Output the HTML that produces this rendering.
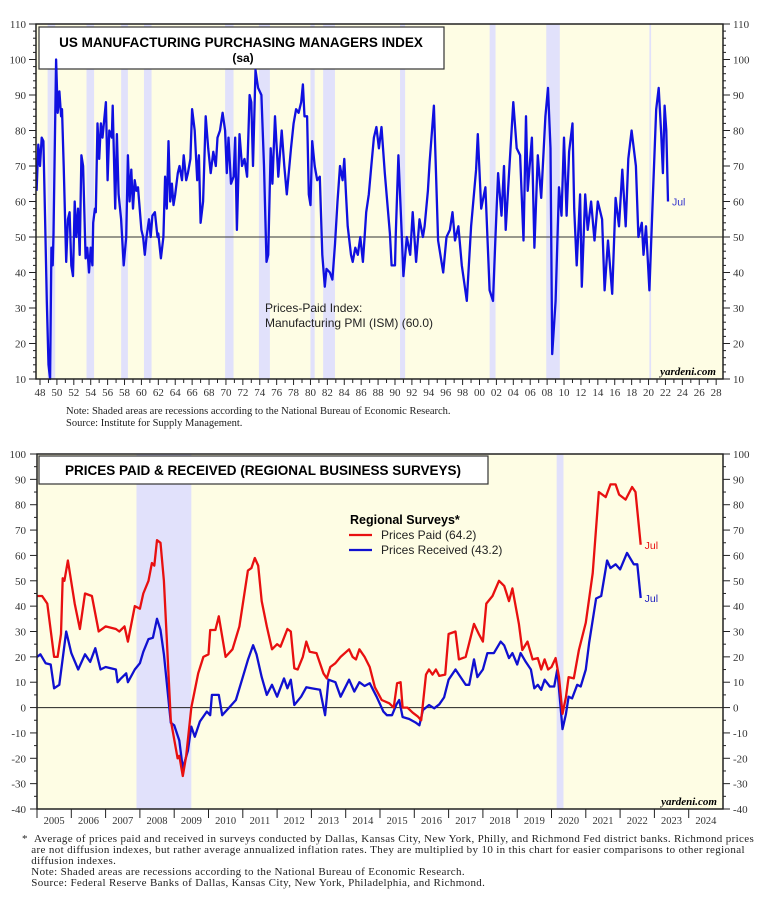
<!DOCTYPE html>
<html><head><meta charset="utf-8">
<style>
body{margin:0;background:#fff;width:771px;height:907px;overflow:hidden;font-family:"Liberation Serif",serif;}
svg{position:absolute;left:0;top:0}
.note{position:absolute;font-family:"Liberation Serif",serif;font-size:10.5px;line-height:11.5px;color:#222}
</style></head><body>
<svg id="chart" width="771" height="907" xmlns="http://www.w3.org/2000/svg"></svg>
<div class="note" style="left:66px;top:406px">Note: Shaded areas are recessions according to the National Bureau of Economic Research.<br>Source: Institute for Supply Management.</div>
<div class="note" style="left:22px;top:834px;width:749px;font-size:11px;line-height:11px;letter-spacing:0.35px;white-space:nowrap">*&nbsp;&nbsp;Average of prices paid and received in surveys conducted by Dallas, Kansas City, New York, Philly, and Richmond Fed district banks. Richmond prices<br>&nbsp;&nbsp;&nbsp;are not diffusion indexes, but rather average annualized inflation rates. They are multiplied by 10 in this chart for easier comparisons to other regional<br>&nbsp;&nbsp;&nbsp;diffusion indexes.<br>&nbsp;&nbsp;&nbsp;Note: Shaded areas are recessions according to the National Bureau of Economic Research.<br>&nbsp;&nbsp;&nbsp;Source: Federal Reserve Banks of Dallas, Kansas City, New York, Philadelphia, and Richmond.</div>
<script>
// ---------- TOP CHART DATA ----------
const pmiDates=[1947.6,1947.8,1948.0,1948.2,1948.4,1948.6,1948.8,1949.0,1949.2,1949.35,1949.5,1949.6,1949.9,1950.1,1950.3,1950.5,1950.6,1950.8,1951.1,1951.3,1951.5,1951.7,1951.9,1952.1,1952.3,1952.5,1952.7,1952.9,1953.1,1953.4,1953.6,1953.8,1954.0,1954.2,1954.3,1954.5,1954.6,1954.8,1955.0,1955.2,1955.4,1955.6,1955.8,1956.0,1956.2,1956.5,1956.6,1956.9,1957.1,1957.3,1957.6,1957.9,1958.2,1958.4,1958.6,1958.8,1959.0,1959.2,1959.4,1959.6,1959.8,1960.0,1960.2,1960.4,1960.6,1960.9,1961.1,1961.3,1961.6,1961.9,1962.0,1962.3,1962.6,1962.8,1963.0,1963.2,1963.4,1963.6,1963.8,1964.0,1964.3,1964.5,1964.8,1965.0,1965.3,1965.5,1965.8,1966.0,1966.3,1966.6,1966.8,1967.0,1967.3,1967.6,1967.9,1968.2,1968.5,1968.8,1969.0,1969.3,1969.6,1969.9,1970.1,1970.3,1970.6,1970.9,1971.1,1971.3,1971.6,1971.9,1972.2,1972.5,1972.8,1973.0,1973.2,1973.5,1973.8,1974.2,1974.5,1974.8,1975.0,1975.3,1975.5,1975.8,1976.2,1976.6,1976.9,1977.2,1977.7,1978.0,1978.3,1978.6,1978.9,1979.1,1979.3,1979.6,1979.8,1980.0,1980.2,1980.5,1980.8,1981.1,1981.4,1981.7,1981.9,1982.3,1982.6,1982.9,1983.2,1983.5,1983.8,1984.0,1984.2,1984.4,1984.8,1985.0,1985.3,1985.6,1985.9,1986.2,1986.4,1986.6,1986.9,1987.2,1987.5,1987.8,1988.1,1988.4,1988.8,1989.4,1989.6,1990.0,1990.1,1990.4,1990.8,1991.0,1991.4,1991.8,1992.1,1992.5,1992.9,1993.3,1993.5,1993.9,1994.1,1994.6,1995.1,1995.7,1996.1,1996.5,1996.8,1997.1,1997.5,1997.9,1998.5,1999.0,1999.6,1999.8,2000.2,2000.7,2001.2,2001.6,2001.9,2002.2,2002.6,2002.9,2003.1,2003.6,2004.0,2004.4,2004.8,2005.2,2005.5,2005.7,2006.2,2006.5,2006.9,2007.3,2007.8,2008.1,2008.4,2008.6,2009.0,2009.4,2009.7,2010.0,2010.3,2010.6,2011.0,2011.2,2011.5,2011.9,2012.1,2012.5,2012.8,2013.2,2013.6,2014.0,2014.5,2014.8,2015.2,2015.7,2016.1,2016.5,2016.9,2017.3,2017.6,2018.0,2018.5,2018.8,2019.2,2019.4,2019.7,2020.1,2020.5,2020.9,2021.2,2021.5,2021.7,2021.9,2022.1,2022.3];
const pmiValues=[63,76,70,78,77,55,32,14,10,47,42,51,100,85,91,84,86,70,43,55,57,42,39,60,50,58,45,73,70,44,47,40,47,42,54,58,57,82,72,82,78,83,88,66,80,78,87,58,79,62,55,42,50,73,60,69,58,66,63,64,58,52,50,45,50,55,50,56,57,50,51,44,50,67,58,77,60,65,59,62,68,70,66,73,66,68,72,86,80,66,73,54,60,84,75,68,74,70,78,80,85,80,68,78,65,67,78,52,79,70,72,67,90,88,70,97,92,90,70,43,45,75,65,84,67,80,70,62,75,82,86,85,88,93,84,84,62,59,77,70,66,67,45,36,41,40,38,48,60,70,66,72,62,53,45,43,47,45,50,43,50,57,62,70,78,81,75,81,68,51,42,42,51,73,51,39,50,45,57,43,55,50,53,63,71,87,49,40,50,52,57,49,53,42,32,53,69,79,58,64,35,32,51,68,56,70,52,72,88,75,73,49,84,63,78,47,73,61,84,92,75,17,32,64,56,78,56,74,82,58,42,62,36,62,52,60,49,60,55,35,49,34,61,53,69,53,72,80,70,50,54,45,53,35,61,86,92,79,68,87,80,60];
const pmiTicks=[10,20,30,40,50,60,70,80,90,100,110];
const pmiYearLabels=["48","50","52","54","56","58","60","62","64","66","68","70","72","74","76","78","80","82","84","86","88","90","92","94","96","98","00","02","04","06","08","10","12","14","16","18","20","22","24","26","28"];
const topRecStart=[1948.9,1953.5,1957.6,1960.3,1969.9,1973.9,1980.0,1981.5,1990.6,2001.2,2007.9,2020.1];
const topRecEnd=[1949.8,1954.4,1958.4,1961.2,1970.9,1975.2,1980.5,1982.9,1991.2,2001.9,2009.5,2020.3];

// ---------- BOTTOM CHART DATA ----------
const paidDates=[2005.0,2005.15,2005.3,2005.5,2005.6,2005.7,2005.75,2005.8,2005.9,2006.1,2006.25,2006.4,2006.6,2006.8,2007.0,2007.3,2007.4,2007.55,2007.65,2007.85,2008.0,2008.1,2008.25,2008.35,2008.42,2008.5,2008.6,2008.7,2008.9,2009.1,2009.15,2009.25,2009.35,2009.5,2009.7,2009.85,2010.0,2010.05,2010.2,2010.3,2010.5,2010.7,2010.9,2011.15,2011.25,2011.35,2011.45,2011.55,2011.7,2011.85,2012.0,2012.1,2012.3,2012.4,2012.5,2012.6,2012.75,2012.85,2012.95,2013.15,2013.35,2013.45,2013.55,2013.7,2013.85,2014.1,2014.2,2014.3,2014.4,2014.55,2014.7,2014.85,2015.05,2015.27,2015.4,2015.5,2015.6,2015.66,2015.8,2015.95,2016.1,2016.2,2016.34,2016.43,2016.53,2016.63,2016.73,2016.9,2017.0,2017.2,2017.3,2017.5,2017.74,2017.88,2018.0,2018.1,2018.28,2018.47,2018.62,2018.76,2018.86,2019.05,2019.15,2019.3,2019.45,2019.6,2019.7,2019.8,2019.9,2020.0,2020.12,2020.22,2020.32,2020.42,2020.5,2020.65,2020.8,2021.0,2021.2,2021.38,2021.58,2021.72,2021.87,2021.97,2022.16,2022.35,2022.45,2022.6];
const paidValues=[44,44,41,20,20,29,51,50,58,41,31,45,44,30,32,31,30,32,26,40,39,45,50,57,56,66,65,50,-5,-20,-19,-27,-19,0,13.5,20,21,30.6,30.6,36,20,23,32,54,55,59,56,42,32,23,25,24,31,30,15.5,15,20,26,22,21.5,13.5,11.5,16,17.5,20,23,20,19,23,20,16,8,3,1.7,0,9.6,10,0,0,-2,-3.5,-5,13,15,13,15,12.5,13,29,30,19,20,33,29,26,41,44,50,48,42,47,33,22.7,26,19,19.5,15,19,15,16,19.5,12,-2.5,4,12,11.5,22.7,33.5,53,85,83,88,88,84,82,87,85,64.2];
const recvDates=[2005.0,2005.1,2005.25,2005.4,2005.5,2005.65,2005.85,2006.0,2006.2,2006.4,2006.55,2006.7,2006.85,2007.0,2007.3,2007.35,2007.45,2007.6,2007.65,2007.85,2008.0,2008.1,2008.25,2008.38,2008.5,2008.6,2008.7,2008.9,2009.0,2009.15,2009.25,2009.4,2009.5,2009.6,2009.75,2009.95,2010.05,2010.1,2010.3,2010.4,2010.6,2010.8,2011.0,2011.15,2011.3,2011.4,2011.55,2011.7,2011.85,2012.0,2012.2,2012.3,2012.4,2012.5,2012.7,2012.85,2013.0,2013.25,2013.4,2013.5,2013.7,2013.85,2014.1,2014.25,2014.4,2014.55,2014.7,2014.9,2015.1,2015.2,2015.35,2015.48,2015.56,2015.66,2015.85,2016.05,2016.15,2016.25,2016.43,2016.58,2016.73,2016.87,2017.0,2017.2,2017.35,2017.5,2017.6,2017.74,2017.84,2018.0,2018.13,2018.32,2018.52,2018.62,2018.76,2018.86,2019.0,2019.1,2019.25,2019.4,2019.5,2019.6,2019.7,2019.8,2019.95,2020.08,2020.17,2020.32,2020.42,2020.5,2020.6,2020.75,2020.85,2021.0,2021.1,2021.3,2021.45,2021.62,2021.72,2021.87,2022.0,2022.2,2022.4,2022.5,2022.6];
const recvValues=[20,21,17.5,17,7.6,9,30,21.5,15,21,18,23.4,15,16,15,10,11.5,13.5,10,15,17.5,22,27,27.5,35,30.6,21,-6,-7,-13,-24,-17,-7.5,-11.5,-5.5,-1.6,-3,5,5,-3,0,3,12,18.8,24.6,21,12,5,9,4.3,11.5,7.6,11,1,4.3,8,7.6,7,-3,11,10,4.3,11,6.3,10,8.5,9.6,4.3,-1.6,-3,-3,1.3,3,-3.7,-4.5,-6,-7,-1,1,-0.3,1.3,4,11,15,12,9,9,19,12,15,21.5,21.5,26,24.5,19.5,21.5,17,21.5,18,15,7.6,9,7,11,8.3,8.3,15,-8.5,-2.6,4.3,3.6,9,8.3,15,25.7,43,44,58,55,56.5,54.5,61,56.5,56.5,43.2];
const bTicks=[-40,-30,-20,-10,0,10,20,30,40,50,60,70,80,90,100];
const bYearLabels=["2005","2006","2007","2008","2009","2010","2011","2012","2013","2014","2015","2016","2017","2018","2019","2020","2021","2022","2023","2024"];
const botRecStart=[2007.9,2020.15];
const botRecEnd=[2009.5,2020.35];

const NS="http://www.w3.org/2000/svg";
const svg=document.getElementById('chart');
function mk(tag,attrs,parent){const e=document.createElementNS(NS,tag);for(const k in attrs)e.setAttribute(k,attrs[k]);(parent||svg).appendChild(e);return e;}

const T={l:36,r:723,t:24,b:379,ymin:10,ymax:110};
function tx(yr){return 40+(yr-1948)*8.452;}
function ty(v){return T.b-(v-T.ymin)/(T.ymax-T.ymin)*(T.b-T.t);}
const B={l:37,r:723,t:454,b:809,ymin:-40,ymax:100};
function bx(yr){return 37+(yr-2005)*34.3;}
function by(v){return B.b-(v-B.ymin)/(B.ymax-B.ymin)*(B.b-B.t);}

// ----- top chart -----
let bg=mk('rect',{x:T.l,y:T.t,width:T.r-T.l,height:T.b-T.t,fill:'#fefde4'});


for(let i=0;i<topRecStart.length;i++){
  const x1=Math.max(T.l,tx(topRecStart[i])),x2=tx(topRecEnd[i]);
  const r=mk('rect',{x:x1,y:T.t,width:Math.max(1.5,x2-x1),height:T.b-T.t,fill:'#e1e1fb'});
  
  
}
let ref=mk('line',{x1:T.l,x2:T.r,y1:ty(50),y2:ty(50),stroke:'#333','stroke-width':1});


let tb=mk('rect',{x:39,y:27,width:405,height:42,fill:'#fff',stroke:'#333','stroke-width':1.2});


let t1=mk('text',{x:241,y:47,'text-anchor':'middle','font-family':'Liberation Sans, sans-serif','font-weight':'bold','font-size':'13.5px'});
t1.textContent='US MANUFACTURING PURCHASING MANAGERS INDEX';


let t2=mk('text',{x:243,y:62,'text-anchor':'middle','font-family':'Liberation Sans, sans-serif','font-weight':'bold','font-size':'12px'});
t2.textContent='(sa)';


let d='';
for(let i=0;i<pmiDates.length;i++){d+=(i?'L':'M')+Math.max(T.l,tx(pmiDates[i])).toFixed(1)+','+ty(pmiValues[i]).toFixed(1);}
let pl=mk('path',{d:d,fill:'none',stroke:'#1010e0','stroke-width':2.3,'stroke-linejoin':'round'});


let jl=mk('text',{x:tx(pmiDates[pmiDates.length-1])+4,y:ty(pmiValues[pmiValues.length-1])+4,fill:'#3333cc','font-family':'Liberation Sans, sans-serif','font-size':'10.5px'});
jl.textContent='Jul';


let a1=mk('text',{x:265,y:312,'font-family':'Liberation Sans, sans-serif','font-size':'12px',fill:'#222'});
a1.textContent='Prices-Paid Index:';


let a2=mk('text',{x:265,y:327,'font-family':'Liberation Sans, sans-serif','font-size':'12px',fill:'#222'});
a2.textContent='Manufacturing PMI (ISM) (60.0)';


let yd=mk('text',{x:716,y:375,'text-anchor':'end','font-style':'italic','font-weight':'bold','font-size':'11px'});
yd.textContent='yardeni.com';


let fr=mk('rect',{x:T.l,y:T.t,width:T.r-T.l,height:T.b-T.t,fill:'none',stroke:'#222','stroke-width':1.5});


for(let v=10;v<=110;v+=2){
  const big=v%10===0;
  mk('line',{x1:T.l-(big?7:3),x2:T.l,y1:ty(v),y2:ty(v),stroke:'#222'});
  mk('line',{x1:T.r,x2:T.r+(big?7:3),y1:ty(v),y2:ty(v),stroke:'#222'});
}
pmiTicks.forEach(v=>{
  const l=mk('text',{x:26,y:ty(v)+4,'text-anchor':'end','font-size':'11px',fill:'#333'});
  l.textContent=v;
  
  
  const r=mk('text',{x:733,y:ty(v)+4,'font-size':'11px',fill:'#333'});
  r.textContent=v;
  
  
});
for(let y=1948;y<=2028;y++){mk('line',{x1:tx(y),x2:tx(y),y1:T.b,y2:T.b+(y%2===0?6:4),stroke:'#222'});}
pmiYearLabels.forEach((s,i)=>{
  const l=mk('text',{x:tx(1948+2*i),y:396,'text-anchor':'middle','font-size':'11px',fill:'#333'});
  l.textContent=s;
  
  
});

// ----- bottom chart -----
let bg2=mk('rect',{x:B.l,y:B.t,width:B.r-B.l,height:B.b-B.t,fill:'#fefde4'});


for(let i=0;i<botRecStart.length;i++){
  const x1=bx(botRecStart[i]),x2=bx(botRecEnd[i]);
  const r=mk('rect',{x:x1,y:B.t,width:x2-x1,height:B.b-B.t,fill:'#e1e1fb'});
  
  
}
let z=mk('line',{x1:B.l,x2:B.r,y1:by(0),y2:by(0),stroke:'#222','stroke-width':1});


let tb2=mk('rect',{x:39,y:456,width:449,height:28,fill:'#fff',stroke:'#333','stroke-width':1.2});


let bt=mk('text',{x:263,y:475,'text-anchor':'middle','font-family':'Liberation Sans, sans-serif','font-weight':'bold','font-size':'13.5px'});
bt.textContent='PRICES PAID & RECEIVED (REGIONAL BUSINESS SURVEYS)';


function series(dates,vals,color,name){
  let d='';for(let i=0;i<dates.length;i++){d+=(i?'L':'M')+bx(dates[i]).toFixed(1)+','+by(vals[i]).toFixed(1);}
  const p=mk('path',{d:d,fill:'none',stroke:color,'stroke-width':2.3,'stroke-linejoin':'round'});
  
  
}
series(recvDates,recvValues,'#1010d0','prices-received-line');
series(paidDates,paidValues,'#e81010','prices-paid-line');
let j1=mk('text',{x:bx(paidDates[paidDates.length-1])+4,y:by(paidValues[paidValues.length-1])+4,fill:'#e81010','font-family':'Liberation Sans, sans-serif','font-size':'10.5px'});
j1.textContent='Jul';


let j2=mk('text',{x:bx(recvDates[recvDates.length-1])+4,y:by(recvValues[recvValues.length-1])+4,fill:'#2020c0','font-family':'Liberation Sans, sans-serif','font-size':'10.5px'});
j2.textContent='Jul';


let lt=mk('text',{x:350,y:524,'font-family':'Liberation Sans, sans-serif','font-weight':'bold','font-size':'12.5px'});
lt.textContent='Regional Surveys*';


mk('line',{x1:349,x2:372,y1:535,y2:535,stroke:'#e81010','stroke-width':2.3});
let le1=mk('text',{x:381,y:539,'font-family':'Liberation Sans, sans-serif','font-size':'12px',fill:'#222'});
le1.textContent='Prices Paid (64.2)';


mk('line',{x1:349,x2:372,y1:550,y2:550,stroke:'#1010d0','stroke-width':2.3});
let le2=mk('text',{x:381,y:554,'font-family':'Liberation Sans, sans-serif','font-size':'12px',fill:'#222'});
le2.textContent='Prices Received (43.2)';


let yd2=mk('text',{x:717,y:805,'text-anchor':'end','font-style':'italic','font-weight':'bold','font-size':'11px'});
yd2.textContent='yardeni.com';


let fr2=mk('rect',{x:B.l,y:B.t,width:B.r-B.l,height:B.b-B.t,fill:'none',stroke:'#222','stroke-width':1.5});


for(let v=-40;v<=100;v+=5){
  const big=v%10===0;
  mk('line',{x1:B.l-(big?7:3),x2:B.l,y1:by(v),y2:by(v),stroke:'#222'});
  mk('line',{x1:B.r,x2:B.r+(big?7:3),y1:by(v),y2:by(v),stroke:'#222'});
}
bTicks.forEach(v=>{
  const l=mk('text',{x:26,y:by(v)+4,'text-anchor':'end','font-size':'11px',fill:'#333'});
  l.textContent=v;
  
  
  const r=mk('text',{x:733,y:by(v)+4,'font-size':'11px',fill:'#333'});
  r.textContent=v;
  
  
});
bYearLabels.forEach((s,i)=>{
  mk('line',{x1:bx(2005+i),x2:bx(2005+i),y1:B.b,y2:B.b+9,stroke:'#222'});
  const l=mk('text',{x:bx(2005.5+i),y:824,'text-anchor':'middle','font-size':'10.5px',fill:'#333'});
  l.textContent=s;
  
  
});
</script>
</body></html>
